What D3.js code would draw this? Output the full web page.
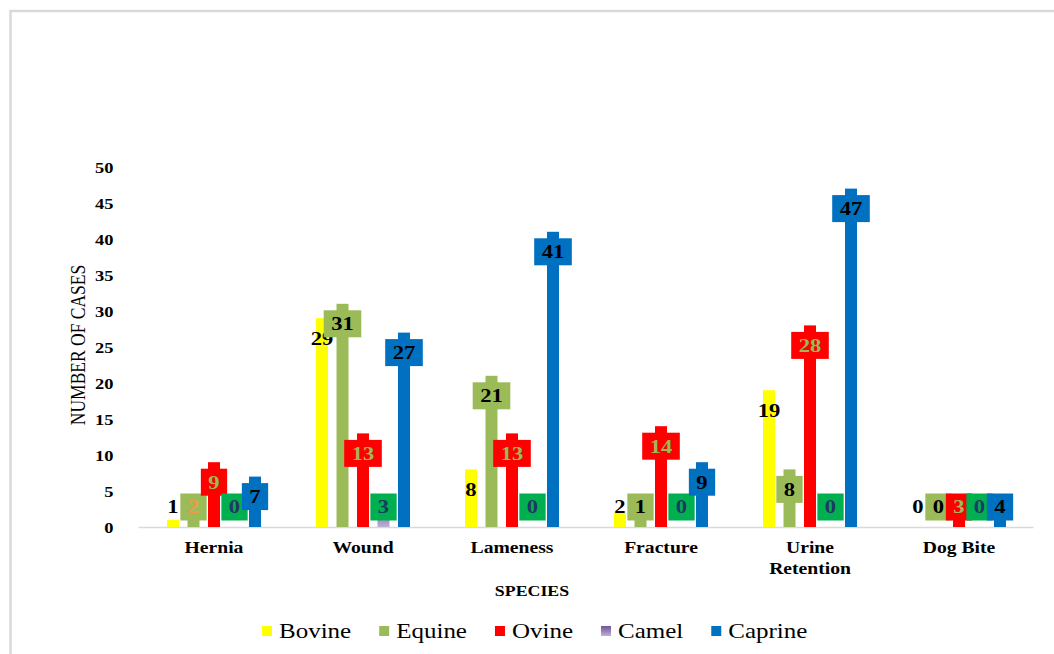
<!DOCTYPE html>
<html>
<head>
<meta charset="utf-8">
<script src="https://cdn.jsdelivr.net/npm/d3@7/dist/d3.min.js"></script>
<style>
  html, body { margin: 0; padding: 0; background: #fff; }
  svg { display: block; }
  text { font-family: "Liberation Serif", "Times New Roman", Times, serif; }
</style>
</head>
<body>
<svg id="chart" width="1054" height="654"></svg>
<script>
// Cases by condition and species
const categories = ["Hernia", "Wound", "Lameness", "Fracture", "Urine Retention", "Dog Bite"];
const seriesNames = ["Bovine", "Equine", "Ovine", "Camel", "Caprine"];
const bovine  = [1, 29, 8, 2, 19, 0];
const equine  = [2, 31, 21, 1, 8, 0];
const ovine   = [9, 13, 13, 14, 28, 3];
const camel   = [0, 3, 0, 0, 0, 0];
const caprine = [7, 27, 41, 9, 47, 4];
const yTicks  = [0, 5, 10, 15, 20, 25, 30, 35, 40, 45, 50];

const seriesValues = [bovine, equine, ovine, camel, caprine];
const barColors   = ["#FFFF00", "#9BBB59", "#FF0000", "url(#camelFill)", "#0070C0"];
const boxColors   = [null, "#9BBB59", "#FF0000", "#00B050", "#0070C0"];
const labelColors = [
  ["#000", "#000", "#000", "#000", "#000", "#000"],
  ["#F79646", "#000", "#000", "#000", "#000", "#000"],
  ["#9BBB59", "#9BBB59", "#9BBB59", "#9BBB59", "#9BBB59", "#9BBB59"],
  ["#1F3864", "#1F3864", "#1F3864", "#1F3864", "#1F3864", "#1F3864"],
  ["#000", "#000", "#000", "#000", "#000", "#000"]
];

const SX = 1.19; // horizontal stretch of the lettering
const svg = d3.select("#chart");

const defs = svg.append("defs");
const grad = defs.append("linearGradient").attr("id", "camelFill")
  .attr("x1", 0).attr("y1", 0).attr("x2", 0).attr("y2", 1);
grad.append("stop").attr("offset", "0%").attr("stop-color", "#6F5499");
grad.append("stop").attr("offset", "100%").attr("stop-color", "#BDB1D4");

// frame edges
svg.append("path")
  .attr("d", "M10.5,654 V11 H1054")
  .attr("fill", "none").attr("stroke", "#D9D9D9").attr("stroke-width", 2.5);

const plot = { left: 139.5, right: 1033.5, top: 167, bottom: 527 };

const y = d3.scaleLinear().domain([0, 50]).range([plot.bottom, plot.top]);
const x0 = d3.scaleBand().domain(categories).range([plot.left, plot.right]).padding(0);
const x1 = d3.scaleBand().domain(seriesNames).range([27.5, 121.5]).paddingInner(0.415).paddingOuter(0);

function stretch(sel, x, yy) {
  return sel.attr("transform", `translate(${x},${yy}) scale(${SX},1)`);
}

// Y axis (labels only)
const yAxis = svg.append("g")
  .attr("transform", `translate(${plot.left},0)`)
  .call(d3.axisLeft(y).tickValues(yTicks).tickSize(0).tickFormat(d3.format("d")));
yAxis.select(".domain").remove();
yAxis.selectAll("text")
  .attr("x", null).attr("dy", "0.35em")
  .attr("transform", `translate(-26,0) scale(${SX},1)`)
  .attr("font-size", 15.5).attr("font-weight", "bold").attr("fill", "#000")
  .attr("text-anchor", "end");

// baseline
svg.append("line")
  .attr("x1", plot.left - 1).attr("x2", plot.right)
  .attr("y1", y(0) + 0.5).attr("y2", y(0) + 0.5)
  .attr("stroke", "#D9D9D9").attr("stroke-width", 1.5);

// X axis (category labels, wrapped)
const xAxis = svg.append("g")
  .attr("transform", `translate(0,${plot.bottom})`)
  .call(d3.axisBottom(x0).tickSize(0));
xAxis.select(".domain").remove();
xAxis.selectAll("text").each(function(d) {
  const t = d3.select(this);
  t.text(null).attr("y", null).attr("dy", null)
    .attr("font-size", 16.5).attr("font-weight", "bold").attr("fill", "#000")
    .attr("transform", `translate(0,26) scale(${SX},1)`);
  const words = d.split(" ");
  // wrap when the label is wider than ~100px
  const probe = t.append("tspan").text(d);
  const w = probe.node().getComputedTextLength() * SX;
  probe.remove();
  const lines = w > 100 ? words : [d];
  lines.forEach((ln, i) => {
    t.append("tspan").attr("x", 0).attr("dy", i === 0 ? 0 : 21).text(ln);
  });
});

// bars
const groups = svg.append("g").selectAll("g")
  .data(categories).join("g")
  .attr("transform", d => `translate(${x0(d)},0)`);

seriesNames.forEach((s, si) => {
  groups.append("rect")
    .attr("x", x1(s))
    .attr("width", x1.bandwidth())
    .attr("y", (d, ci) => y(seriesValues[si][ci]))
    .attr("height", (d, ci) => y(0) - y(seriesValues[si][ci]))
    .attr("fill", barColors[si]);
});

// data labels: inside the bar end, held above the baseline
const labelY = v => Math.min(y(v) + 20, y(0) - 20);
const labelLayer = svg.append("g");
seriesNames.forEach((s, si) => {
  categories.forEach((c, ci) => {
    const v = seriesValues[si][ci];
    const cx = x0(c) + x1(s) + x1.bandwidth() / 2;
    const cy = labelY(v);
    const g = labelLayer.append("g");
    const txt = g.append("text")
      .attr("text-anchor", "middle").attr("dy", "0.34em")
      .attr("font-size", 19).attr("font-weight", "bold")
      .attr("fill", labelColors[si][ci])
      .text(v);
    stretch(txt, cx, cy);
    if (boxColors[si]) {
      const tw = txt.node().getComputedTextLength() * SX;
      const bw = tw + 15;
      g.insert("rect", "text")
        .attr("x", cx - bw / 2).attr("y", cy - 13.5)
        .attr("width", bw).attr("height", 27)
        .attr("fill", boxColors[si]);
    }
  });
});

// axis titles
svg.append("text")
  .attr("text-anchor", "middle").attr("dy", "0.35em")
  .attr("font-size", 17.5).attr("fill", "#000")
  .attr("transform", `translate(78,345) scale(${SX},1) rotate(-90)`)
  .text("NUMBER OF CASES");

stretch(svg.append("text")
  .attr("text-anchor", "middle")
  .attr("font-size", 15).attr("font-weight", "bold").attr("fill", "#000")
  .text("SPECIES"), 532, 596);

// legend
const legend = svg.append("g");
let lx = 262;
seriesNames.forEach((s, si) => {
  legend.append("rect")
    .attr("x", lx).attr("y", 626).attr("width", 10).attr("height", 10)
    .attr("fill", barColors[si]);
  const t = legend.append("text")
    .attr("font-size", 21).attr("fill", "#000").text(s);
  stretch(t, lx + 17, 638);
  lx += 17 + t.node().getComputedTextLength() * SX + 28;
});
</script>
</body>
</html>
